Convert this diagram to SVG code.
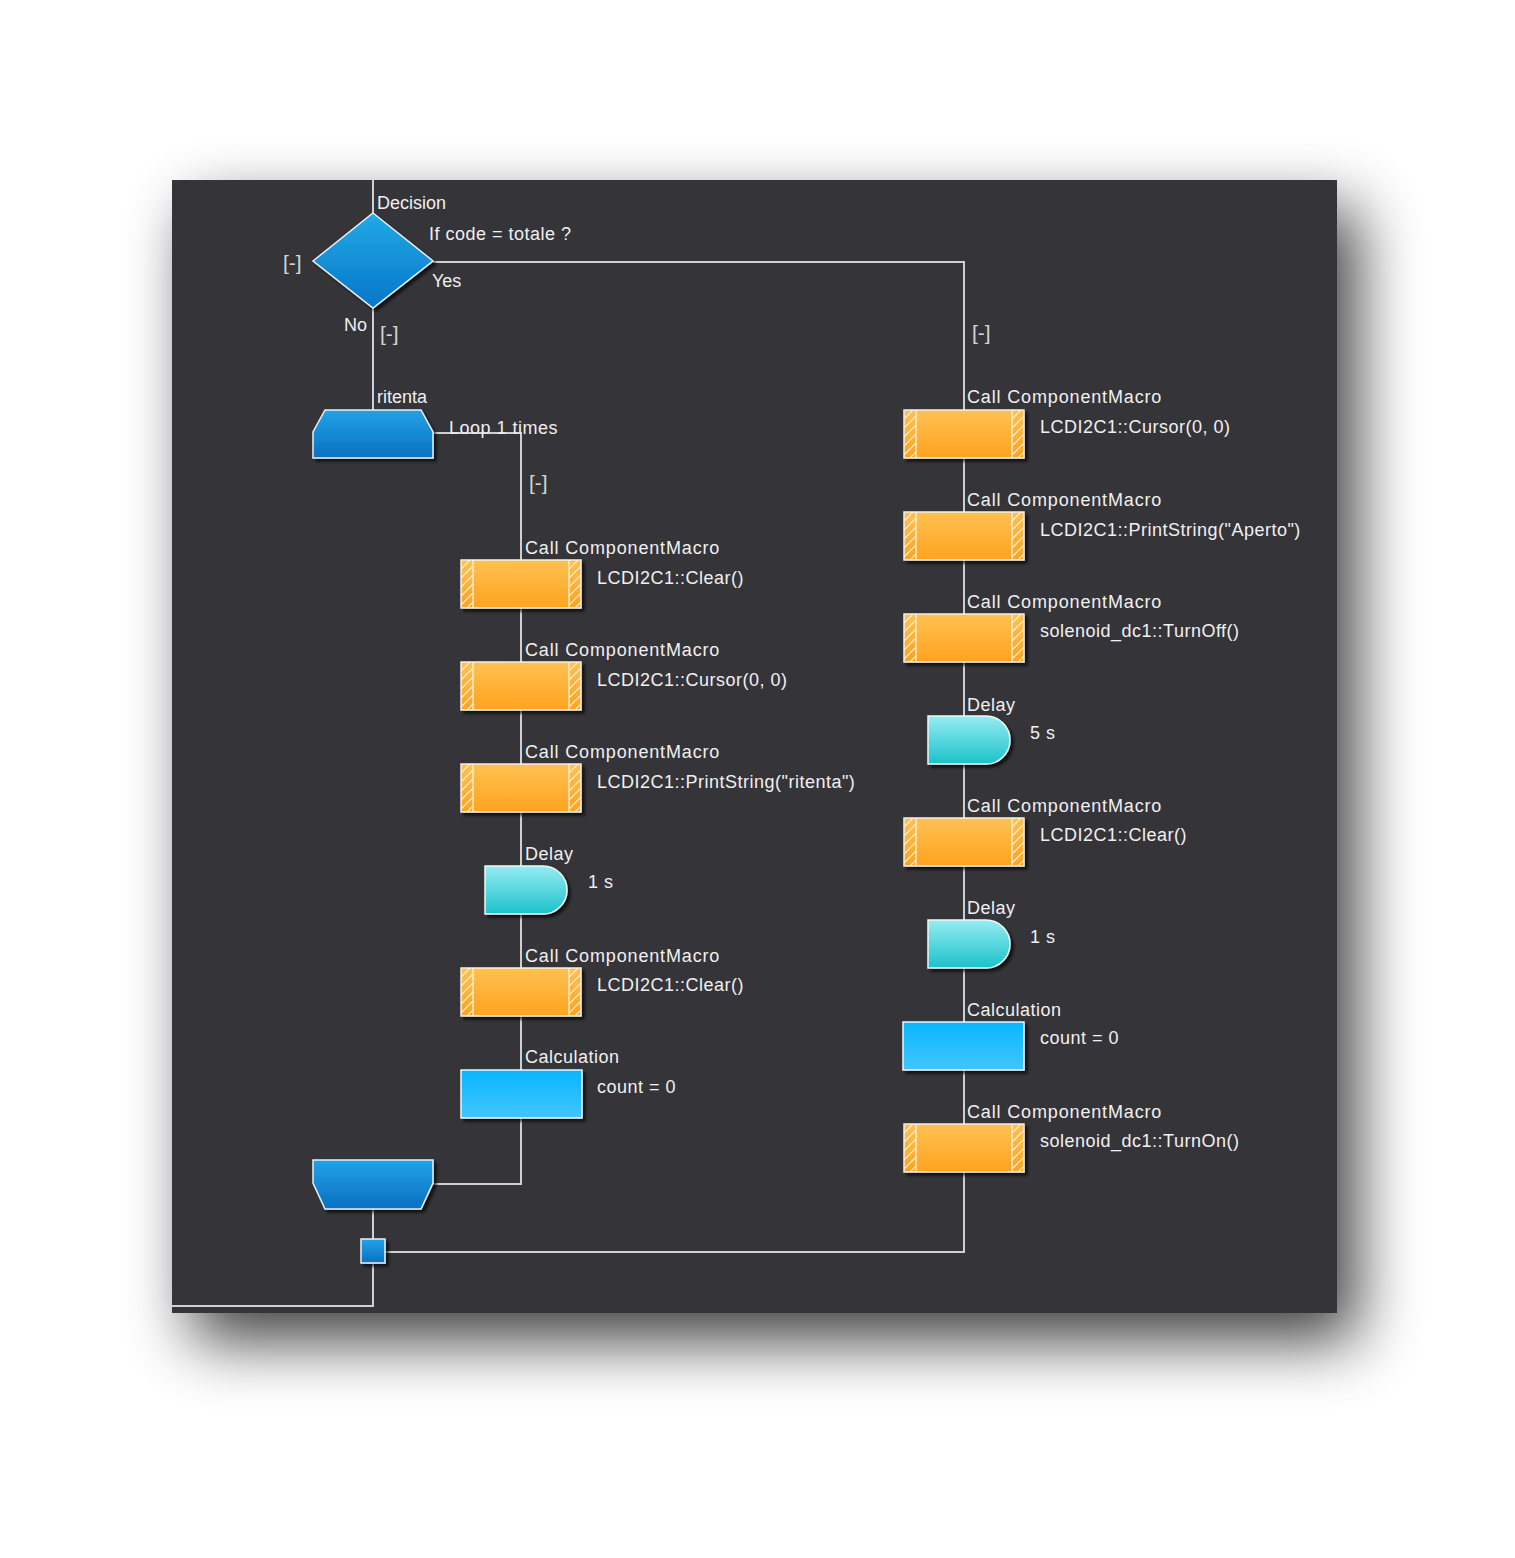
<svg xmlns="http://www.w3.org/2000/svg" width="1515" height="1558" viewBox="0 0 1515 1558">
<defs>
<filter id="panelShadow" x="-20%" y="-20%" width="140%" height="140%"><feGaussianBlur stdDeviation="32"/></filter>
<filter id="ds" x="-20%" y="-20%" width="150%" height="150%"><feDropShadow dx="3" dy="3" stdDeviation="1.5" flood-color="#000" flood-opacity="0.65"/></filter>
<linearGradient id="gOrange" x1="0" y1="0" x2="0" y2="1"><stop offset="0" stop-color="#ffc152"/><stop offset="1" stop-color="#ffa31f"/></linearGradient>
<linearGradient id="gCalc" x1="0" y1="0" x2="0" y2="1"><stop offset="0" stop-color="#08b6ff"/><stop offset="1" stop-color="#42c5ff"/></linearGradient>
<linearGradient id="gDiamond" x1="0" y1="0" x2="0" y2="1"><stop offset="0" stop-color="#22a9e8"/><stop offset="1" stop-color="#0676c6"/></linearGradient>
<linearGradient id="gLoop" x1="0" y1="0" x2="0" y2="1"><stop offset="0" stop-color="#22a2e6"/><stop offset="1" stop-color="#0a70c2"/></linearGradient>
<linearGradient id="gDelay" x1="0" y1="0" x2="0" y2="1"><stop offset="0" stop-color="#96ecf2"/><stop offset="1" stop-color="#1bc2cb"/></linearGradient>
<pattern id="hatch" patternUnits="userSpaceOnUse" width="9" height="9"><rect width="9" height="9" fill="none"/><path d="M-1,10 L10,-1 M-1,1 L1,-1 M8,10 L10,8" stroke="#fff3dc" stroke-width="1.2"/></pattern>
<g id="macro">
<rect x="0" y="0" width="120" height="48" fill="url(#gOrange)"/>
<rect x="0" y="0" width="12" height="48" fill="url(#hatch)"/>
<rect x="108" y="0" width="12" height="48" fill="url(#hatch)"/>
<path d="M12,0 V48 M108,0 V48" stroke="#fff3dc" stroke-width="1.3"/>
<rect x="0" y="0" width="120" height="48" fill="none" stroke="#f4efe6" stroke-width="1.5"/>
</g>
<g id="calc"><rect x="0" y="0" width="121" height="48" fill="url(#gCalc)" stroke="#eef6fa" stroke-width="1.5"/></g>
<g id="delay"><path d="M0,0 H58 A24,24 0 0 1 58,48 H0 Z" fill="url(#gDelay)" stroke="#eef6f6" stroke-width="1.5"/></g>
<style>
.t{font-family:"Liberation Sans",Arial,sans-serif;font-size:18px;fill:#f0f0f0;}
.lbl{letter-spacing:0.85px;}
.det{letter-spacing:0.5px;}
.br{font-family:"Liberation Sans",Arial,sans-serif;font-size:21px;fill:#d4d4d4;}
.c{fill:none;stroke:#cfcfcf;stroke-width:2;}
</style>
</defs>
<rect width="1515" height="1558" fill="#ffffff"/>
<rect x="192" y="208" width="1165" height="1133" fill="#000" opacity="0.75" filter="url(#panelShadow)"/>
<rect x="172" y="180" width="1165" height="1133" fill="#353439"/>

<g id="connectors" class="c">
<path class="c" d="M373,180 V213"/>
<path class="c" d="M433,262 H964 V1252 H385"/>
<path class="c" d="M373,308 V410"/>
<path class="c" d="M433,433 H521 V1184 H433"/>
<path class="c" d="M373,1209 V1239"/>
<path class="c" d="M373,1263 V1306 H172"/>
</g>

<g id="decision">
<polygon points="373,213 433,261 373,308 313,261" fill="url(#gDiamond)" stroke="#e8f0f6" stroke-width="1.5" filter="url(#ds)"/>
<text class="t" x="377" y="209">Decision</text>
<text class="t det" x="429" y="240">If  code = totale ?</text>
<text class="t" x="432" y="287">Yes</text>
<text class="t" x="344" y="331">No</text>
<text class="br" x="283" y="270">[-]</text>
<text class="br" x="380" y="341">[-]</text>
<text class="br" x="972" y="340">[-]</text>
</g>

<g id="loop-start">
<path d="M325,410 H421 L433,432 V458 H313 V432 Z" fill="url(#gLoop)" stroke="#e8f0f6" stroke-width="1.5" filter="url(#ds)"/>
<text class="t" x="377" y="403">ritenta</text>
<text class="t det" x="449" y="434">Loop 1 times</text>
<text class="br" x="529" y="490">[-]</text>
</g>

<g id="l1" transform="translate(461,560)"><use href="#macro" filter="url(#ds)"/><text class="t lbl" x="64" y="-6">Call ComponentMacro</text><text class="t det" x="136" y="24">LCDI2C1::Clear()</text></g>
<g id="l2" transform="translate(461,662)"><use href="#macro" filter="url(#ds)"/><text class="t lbl" x="64" y="-6">Call ComponentMacro</text><text class="t det" x="136" y="24">LCDI2C1::Cursor(0, 0)</text></g>
<g id="l3" transform="translate(461,764)"><use href="#macro" filter="url(#ds)"/><text class="t lbl" x="64" y="-6">Call ComponentMacro</text><text class="t det" x="136" y="24">LCDI2C1::PrintString("ritenta")</text></g>
<g id="l4" transform="translate(485,866)"><use href="#delay" filter="url(#ds)"/><text class="t det" x="40" y="-6">Delay</text><text class="t det" x="103" y="22">1 s</text></g>
<g id="l5" transform="translate(461,968)"><use href="#macro" filter="url(#ds)"/><text class="t lbl" x="64" y="-6">Call ComponentMacro</text><text class="t det" x="136" y="23">LCDI2C1::Clear()</text></g>
<g id="l6" transform="translate(461,1070)"><use href="#calc" filter="url(#ds)"/><text class="t det" x="64" y="-7">Calculation</text><text class="t det" x="136" y="23">count = 0</text></g>

<g id="loop-end">
<path d="M313,1160 H433 V1183 L421,1209 H325 L313,1183 Z" fill="url(#gLoop)" stroke="#e8f0f6" stroke-width="1.5" filter="url(#ds)"/>
</g>

<g id="junction">
<rect x="361" y="1239" width="24" height="24" fill="url(#gLoop)" stroke="#e8f0f6" stroke-width="1.5" filter="url(#ds)"/>
</g>

<g id="r1" transform="translate(904,410)"><use href="#macro" filter="url(#ds)"/><text class="t lbl" x="63" y="-7">Call ComponentMacro</text><text class="t det" x="136" y="23">LCDI2C1::Cursor(0, 0)</text></g>
<g id="r2" transform="translate(904,512)"><use href="#macro" filter="url(#ds)"/><text class="t lbl" x="63" y="-6">Call ComponentMacro</text><text class="t det" x="136" y="24">LCDI2C1::PrintString("Aperto")</text></g>
<g id="r3" transform="translate(904,614)"><use href="#macro" filter="url(#ds)"/><text class="t lbl" x="63" y="-6">Call ComponentMacro</text><text class="t det" x="136" y="23">solenoid_dc1::TurnOff()</text></g>
<g id="r4" transform="translate(928,716)"><use href="#delay" filter="url(#ds)"/><text class="t det" x="39" y="-5">Delay</text><text class="t det" x="102" y="23">5 s</text></g>
<g id="r5" transform="translate(904,818)"><use href="#macro" filter="url(#ds)"/><text class="t lbl" x="63" y="-6">Call ComponentMacro</text><text class="t det" x="136" y="23">LCDI2C1::Clear()</text></g>
<g id="r6" transform="translate(928,920)"><use href="#delay" filter="url(#ds)"/><text class="t det" x="39" y="-6">Delay</text><text class="t det" x="102" y="23">1 s</text></g>
<g id="r7" transform="translate(903,1022)"><use href="#calc" filter="url(#ds)"/><text class="t det" x="64" y="-6">Calculation</text><text class="t det" x="137" y="22">count = 0</text></g>
<g id="r8" transform="translate(904,1124)"><use href="#macro" filter="url(#ds)"/><text class="t lbl" x="63" y="-6">Call ComponentMacro</text><text class="t det" x="136" y="23">solenoid_dc1::TurnOn()</text></g>
</svg>
